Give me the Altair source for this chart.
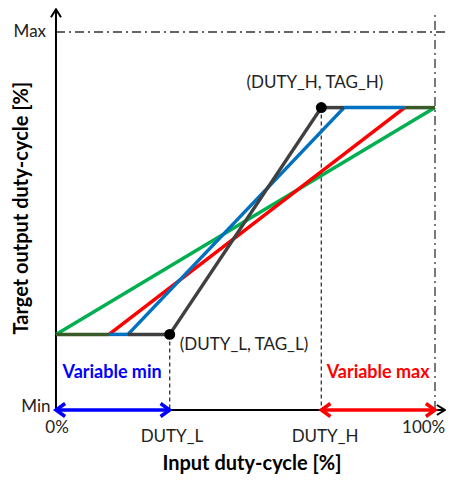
import altair as alt
import pandas as pd

FONT = "Lato"
X_DOM = [-12.66, 102.9]
Y_DOM = [-17.2, 106.35]

# sloped transfer lines (input %, output %)
slope_x1 = [0, 14, 19, 30]
slope_y1 = [20, 20, 20, 20]
slope_x2 = [100, 92, 76, 70]
slope_y2 = [80, 80, 80, 80]
slope_color = ["#00b050", "#ff0000", "#0070c0", "#404040"]

# plateau pieces
plat_x1 = [0, 14, 19, 70, 76, 92]
plat_x2 = [14, 19, 30, 76, 92, 100]
plat_y = [20, 20, 20, 80, 80, 80]
plat_color = ["#3b5a2a", "#0070c0", "#404040", "#404040", "#0070c0", "#3b5a2a"]

# key points (DUTY_L, TAG_L), (DUTY_H, TAG_H)
key_x = [30, 70]
key_y = [20, 80]

# dashed guides
dash_x = [30, 70]
dash_y = [20, 80]

# dash-dot limits
max_y = 100
max_x_end = 102.9
full_x = 100
full_y_end = 104.5

# axes
yaxis_top = 106
xaxis_end = 102.6

# range arrows
rng_x1 = [0, 70]
rng_x2 = [30, 100]
rng_color = ["#0000ff", "#ff0000"]

# normal labels
lab_text = ["Max", "Min", "0%", "DUTY_L", "DUTY_H", "100%", "(DUTY_H, TAG_H)", "(DUTY_L, TAG_L)"]
lab_x = [-6.9, -5.3, 0.3, 30.6, 71.0, 97.0, 68.3, 49.6]
lab_y = [100, 0.7, -4.8, -7.1, -7.1, -4.8, 86.5, 17.2]

# bold range labels
rl_text = ["Variable min", "Variable max"]
rl_x = [14.8, 85.0]
rl_y = [9.8, 9.8]
rl_color = ["#0000ff", "#ff0000"]

xtitle = "Input duty-cycle [%]"
xtitle_pos = (51.7, -14.2)
ytitle = "Target output duty-cycle [%]"
ytitle_pos = (-9.0, 53.4)

xs = alt.Scale(domain=X_DOM, nice=False, zero=False)
ys = alt.Scale(domain=Y_DOM, nice=False, zero=False)


def X(f):
    return alt.X(f, type="quantitative", scale=xs, axis=None)


def Y(f):
    return alt.Y(f, type="quantitative", scale=ys, axis=None)


# axes lines
axes_df = pd.DataFrame({"x1": [0, 0], "y1": [0, 0], "x2": [0, xaxis_end], "y2": [yaxis_top, 0]})
axes = alt.Chart(axes_df).mark_rule(color="#000000", strokeWidth=2).encode(
    x=X("x1"), y=Y("y1"), x2="x2", y2="y2")

ahead_df = pd.DataFrame({"x": [0, xaxis_end], "y": [yaxis_top, 0],
                         "s": ["M-1,1.6L0,0L1,1.6", "M-1.6,-1L0,0L-1.6,1"]})
aheads = alt.Chart(ahead_df).mark_point(filled=False, size=100, strokeWidth=2, color="#000000", opacity=1).encode(
    x=X("x"), y=Y("y"), shape=alt.Shape("s:N", scale=None))

# dash-dot
dd_df = pd.DataFrame({"x1": [0, full_x], "y1": [max_y, 0], "x2": [max_x_end, full_x], "y2": [max_y, full_y_end]})
dd = alt.Chart(dd_df).mark_rule(color="#333333", strokeWidth=1.3, strokeDash=[9, 4, 2, 4]).encode(
    x=X("x1"), y=Y("y1"), x2="x2", y2="y2")

# dashed
da_df = pd.DataFrame({"x": dash_x, "y": dash_y})
da = alt.Chart(da_df).mark_rule(color="#333333", strokeWidth=1.3, strokeDash=[4, 3]).encode(
    x=X("x"), y=Y("y"), y2=alt.datum(0))

# slopes
sl_df = pd.DataFrame({"x1": slope_x1, "y1": slope_y1, "x2": slope_x2, "y2": slope_y2, "c": slope_color})
slopes = alt.Chart(sl_df).mark_rule(strokeWidth=3.5).encode(
    x=X("x1"), y=Y("y1"), x2="x2", y2="y2", color=alt.Color("c:N", scale=None))

pl_df = pd.DataFrame({"x1": plat_x1, "x2": plat_x2, "y": plat_y, "c": plat_color})
plats = alt.Chart(pl_df).mark_rule(strokeWidth=3.5).encode(
    x=X("x1"), x2="x2", y=Y("y"), color=alt.Color("c:N", scale=None))

# key points
kp_df = pd.DataFrame({"x": key_x, "y": key_y})
kps = alt.Chart(kp_df).mark_point(filled=True, size=120, color="#000000", opacity=1).encode(x=X("x"), y=Y("y"))

# range arrows (drawn on the x axis, y = 0)
rg_df = pd.DataFrame({"x1": rng_x1, "x2": rng_x2, "y": [0, 0], "c": rng_color})
rg = alt.Chart(rg_df).mark_rule(strokeWidth=3.5).encode(
    x=X("x1"), x2="x2", y=Y("y"), color=alt.Color("c:N", scale=None))

rh_rows = []
for a, b, c in zip(rng_x1, rng_x2, rng_color):
    rh_rows.append({"x": a, "y": 0, "c": c, "s": "M1.4,-1L0,0L1.4,1"})
    rh_rows.append({"x": b, "y": 0, "c": c, "s": "M-1.4,-1L0,0L-1.4,1"})
rh_df = pd.DataFrame(rh_rows)
rh = alt.Chart(rh_df).mark_point(filled=False, size=170, strokeWidth=3.5, opacity=1).encode(
    x=X("x"), y=Y("y"), shape=alt.Shape("s:N", scale=None), color=alt.Color("c:N", scale=None))

# labels
lb_df = pd.DataFrame({"t": lab_text, "x": lab_x, "y": lab_y})
labels = alt.Chart(lb_df).mark_text(font=FONT, fontSize=17, color="#222222", align="center", baseline="middle").encode(
    x=X("x"), y=Y("y"), text="t:N")

rl_df = pd.DataFrame({"t": rl_text, "x": rl_x, "y": rl_y, "c": rl_color})
rlabels = alt.Chart(rl_df).mark_text(font=FONT, fontSize=18, fontWeight="bold", align="center", baseline="middle").encode(
    x=X("x"), y=Y("y"), text="t:N", color=alt.Color("c:N", scale=None))

xt_df = pd.DataFrame({"t": [xtitle], "x": [xtitle_pos[0]], "y": [xtitle_pos[1]]})
xt = alt.Chart(xt_df).mark_text(font=FONT, fontSize=20, fontWeight="bold", color="#000000", align="center", baseline="middle").encode(
    x=X("x"), y=Y("y"), text="t:N")

yt_df = pd.DataFrame({"t": [ytitle], "x": [ytitle_pos[0]], "y": [ytitle_pos[1]]})
yt = alt.Chart(yt_df).mark_text(font=FONT, fontSize=20, fontWeight="bold", color="#000000", align="center", baseline="middle", angle=270).encode(
    x=X("x"), y=Y("y"), text="t:N")

chart = alt.layer(dd, da, axes, aheads, slopes, plats, kps, rg, rh, labels, rlabels, xt, yt).properties(
    width=438, height=467, padding=0, autosize=alt.AutoSizeParams(type="none")
).configure_view(stroke=None)

chart.save("out.html", embed_options={"renderer": "svg", "actions": False})
